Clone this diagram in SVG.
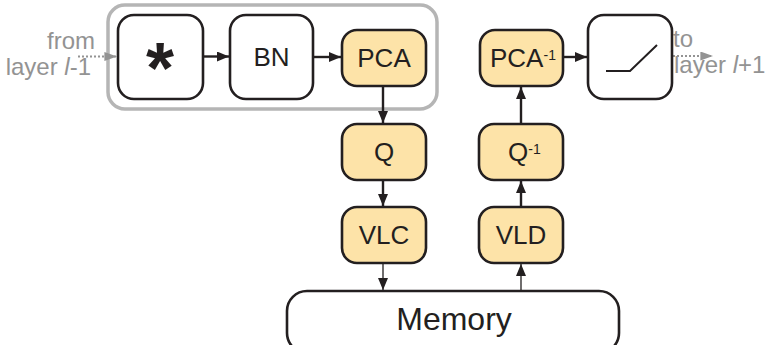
<svg xmlns="http://www.w3.org/2000/svg" width="767" height="345" viewBox="0 0 767 345">
<defs>
<style>
.box{fill:#ffffff;stroke:#231f20;stroke-width:2.6}
.hl{fill:#fde3a8;stroke:#231f20;stroke-width:2.6}
.lbl{font-family:"Liberation Sans",Arial,sans-serif;font-size:26px;fill:#231f20;text-anchor:middle}
.lbs{font-family:"Liberation Sans",Arial,sans-serif;font-size:26px;fill:#231f20;text-anchor:start}
.sup{font-size:14px}
.gray{font-family:"Liberation Sans",Arial,sans-serif;font-size:24px;fill:#939393}
.edge{stroke:#231f20;stroke-width:2.4;fill:none}
.thin{stroke:#231f20;stroke-width:1.3;fill:none}
.dot{stroke:#939393;stroke-width:2;stroke-dasharray:2 2;fill:none}
</style>
<marker id="ah" viewBox="0 0 12 10" refX="12" refY="5" markerWidth="12" markerHeight="10" markerUnits="userSpaceOnUse" orient="auto">
<path d="M0,0 L12,5 L0,10 Z" fill="#231f20"/>
</marker>
<marker id="ahg" viewBox="0 0 14 10" refX="14" refY="5" markerWidth="14" markerHeight="9" markerUnits="userSpaceOnUse" orient="auto">
<path d="M0,0 L14,5 L0,10 Z" fill="#939393"/>
</marker>
</defs>
<rect x="0" y="0" width="767" height="345" fill="#ffffff"/>
<g id="group-frame">
<rect x="108" y="5" width="329" height="104" rx="17" fill="none" stroke="#b5b5b5" stroke-width="3.5"/>
</g>
<g id="connectors">
<line class="dot" x1="78" y1="56.5" x2="117" y2="56.5" marker-end="url(#ahg)"/>
<line class="edge" x1="203" y1="56.5" x2="229" y2="56.5" marker-end="url(#ah)"/>
<line class="edge" x1="313" y1="57" x2="341" y2="57" marker-end="url(#ah)"/>
<line class="edge" x1="383" y1="86" x2="383" y2="123" marker-end="url(#ah)"/>
<line class="edge" x1="383" y1="180" x2="383" y2="206" marker-end="url(#ah)"/>
<line class="thin" x1="383" y1="263" x2="383" y2="290" marker-end="url(#ah)"/>
<line class="thin" x1="521" y1="291" x2="521" y2="264" marker-end="url(#ah)"/>
<line class="edge" x1="521" y1="207" x2="521" y2="181" marker-end="url(#ah)"/>
<line class="edge" x1="521" y1="123" x2="521" y2="87" marker-end="url(#ah)"/>
<line class="edge" x1="563" y1="57" x2="587" y2="57" marker-end="url(#ah)"/>
<line class="dot" x1="673" y1="56" x2="713" y2="56" marker-end="url(#ahg)"/>
</g>
<g id="from-label">
<text class="gray" x="95" y="49" text-anchor="end">from</text>
<text class="gray" x="91" y="75" text-anchor="end">layer <tspan font-style="italic">l</tspan>-1</text>
</g>
<g id="to-label">
<text class="gray" x="673" y="47">to</text>
<text class="gray" x="674" y="73">layer <tspan font-style="italic">l</tspan>+1</text>
</g>
<g id="conv">
<rect class="box" x="118" y="15" width="85" height="84" rx="16"/>
<text x="160" y="93" font-family="Liberation Sans,Arial,sans-serif" font-weight="bold" font-size="72" fill="#231f20" text-anchor="middle">*</text>
</g>
<g id="bn">
<rect class="box" x="230" y="15" width="83" height="84" rx="16"/>
<text class="lbl" x="271.5" y="66">BN</text>
</g>
<g id="pca">
<rect class="hl" x="342" y="30" width="84" height="56" rx="15"/>
<text class="lbl" x="384" y="67">PCA</text>
</g>
<g id="q">
<rect class="hl" x="342" y="124" width="84" height="56" rx="15"/>
<text class="lbl" x="384" y="161">Q</text>
</g>
<g id="vlc">
<rect class="hl" x="342" y="207" width="84" height="56" rx="15"/>
<text class="lbl" x="384" y="244">VLC</text>
</g>
<g id="vld">
<rect class="hl" x="479" y="207" width="84" height="56" rx="15"/>
<text class="lbl" x="521" y="244">VLD</text>
</g>
<g id="qinv">
<rect class="hl" x="479" y="124" width="84" height="56" rx="15"/>
<text class="lbs" x="508" y="161">Q<tspan class="sup" dy="-7">-1</tspan></text>
</g>
<g id="pcainv">
<rect class="hl" x="480" y="30" width="83" height="56" rx="15"/>
<text class="lbs" x="490" y="67">PCA<tspan class="sup" dy="-7">-1</tspan></text>
</g>
<g id="relu">
<rect class="box" x="588" y="15" width="84" height="84" rx="16"/>
<path d="M606,71 L630,71 L657,45" fill="none" stroke="#231f20" stroke-width="2"/>
</g>
<g id="memory">
<rect class="box" x="287" y="291" width="332" height="62" rx="20"/>
<text class="lbl" x="454" y="330" style="font-size:32px">Memory</text>
</g>
</svg>
